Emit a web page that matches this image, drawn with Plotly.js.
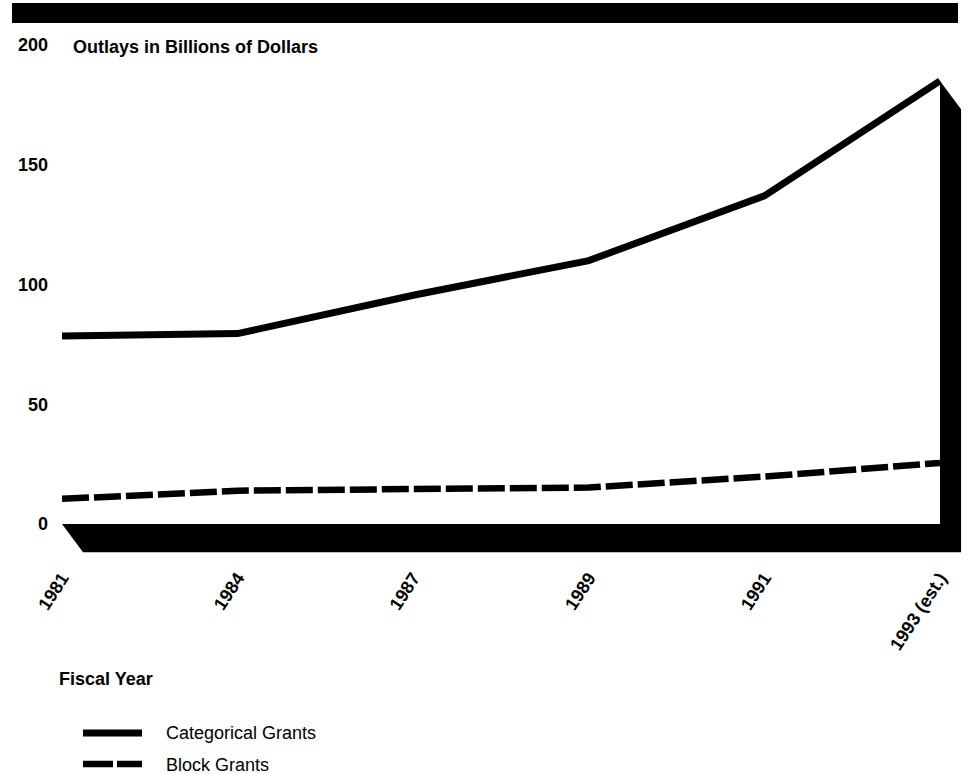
<!DOCTYPE html>
<html>
<head>
<meta charset="utf-8">
<script src="https://cdn.plot.ly/plotly-3.0.1.min.js"></script>
<style>
  html, body { margin: 0; padding: 0; background: #fff; }
  #chart { width: 968px; height: 774px; }
</style>
</head>
<body>
<div id="chart"></div>
<script>
// Federal grant outlays, billions of dollars
const years = ['1981', '1984', '1987', '1989', '1991', '1993 (est.)'];
const categoricalGrants = [78.5, 79.5, 95.5, 110, 137, 185];
const blockGrants = [10.5, 13.9, 14.6, 15.2, 19.8, 25.5];
const yTickValues = [0, 50, 100, 150, 200];

const FONT = '"Liberation Sans", Arial, Helvetica, sans-serif';
const INK = '#000000';

const xIdx = years.map((_, i) => i);
const last = xIdx.length - 1;

// Depth of the extruded floor / end wall (in axis units)
const depthX = 0.12;
const depthY = 11.8;

// Floor slab along the zero line plus the wall rising to the final categorical value
const slab = {
  x: [0, last, last, last + depthX, last + depthX, depthX, 0],
  y: [0, 0, categoricalGrants[last], categoricalGrants[last] - depthY, -depthY, -depthY, 0],
  mode: 'lines',
  fill: 'toself',
  fillcolor: INK,
  line: { width: 0, color: INK },
  hoverinfo: 'skip',
  showlegend: false
};

const catTrace = {
  x: xIdx,
  y: categoricalGrants,
  name: 'Categorical Grants',
  mode: 'lines',
  line: { color: INK, width: 7 },
  showlegend: false
};

const blockTrace = {
  x: xIdx,
  y: blockGrants,
  name: 'Block Grants',
  mode: 'lines',
  line: { color: INK, width: 6.5, dash: '27px,5px' },
  showlegend: false
};

// plot area geometry used for paper-space decorations
const M = { l: 62, r: 5, t: 45, b: 221 };
const W = 968, H = 774;
const pw = W - M.l - M.r, ph = H - M.t - M.b;
const px = (p) => (p - M.l) / pw;
const py = (p) => (H - M.b - p) / ph;

const layout = {
  width: W,
  height: H,
  margin: M,
  paper_bgcolor: '#ffffff',
  plot_bgcolor: '#ffffff',
  showlegend: false,
  font: { family: FONT, color: INK, size: 18 },
  title: {
    text: 'Outlays in Billions of Dollars',
    xref: 'container', yref: 'container',
    x: 73 / W, xanchor: 'left',
    y: 1 - 47 / H, yanchor: 'middle',
    font: { family: FONT, size: 18, weight: 'bold', color: INK }
  },
  xaxis: {
    range: [0, 5.131],
    tickvals: xIdx,
    ticktext: years,
    tickangle: -57,
    showgrid: false,
    zeroline: false,
    showline: false,
    ticks: '',
    ticklabelstandoff: 10,
    tickfont: { family: FONT, size: 18, weight: 'bold', color: INK },
    fixedrange: true
  },
  yaxis: {
    range: [-12.1, 200],
    tickvals: yTickValues,
    ticktext: yTickValues.map(String),
    showgrid: false,
    zeroline: false,
    showline: false,
    ticks: '',
    ticklabelstandoff: 13,
    tickfont: { family: FONT, size: 18, weight: 'bold', color: INK },
    fixedrange: true
  },
  shapes: [
    // heavy rule across the top
    { type: 'rect', xref: 'paper', yref: 'paper', x0: px(12), x1: px(958), y0: py(23), y1: py(3),
      fillcolor: INK, line: { width: 0 } },
    // legend keys
    { type: 'line', xref: 'paper', yref: 'paper', x0: px(83), x1: px(142), y0: py(733), y1: py(733),
      line: { color: INK, width: 7 } },
    { type: 'line', xref: 'paper', yref: 'paper', x0: px(83), x1: px(142), y0: py(764), y1: py(764),
      line: { color: INK, width: 6.5, dash: '30px,4px' } }
  ],
  annotations: [
    { text: 'Fiscal Year', xref: 'paper', yref: 'paper', x: px(57), y: py(679),
      xanchor: 'left', yanchor: 'middle', showarrow: false,
      font: { family: FONT, size: 18, weight: 'bold', color: INK } },
    { text: catTrace.name, xref: 'paper', yref: 'paper', x: px(164), y: py(733),
      xanchor: 'left', yanchor: 'middle', showarrow: false,
      font: { family: FONT, size: 18, color: INK } },
    { text: blockTrace.name, xref: 'paper', yref: 'paper', x: px(164), y: py(765),
      xanchor: 'left', yanchor: 'middle', showarrow: false,
      font: { family: FONT, size: 18, color: INK } }
  ]
};

Plotly.newPlot('chart', [slab, catTrace, blockTrace], layout, { staticPlot: true, displayModeBar: false });
</script>
</body>
</html>
